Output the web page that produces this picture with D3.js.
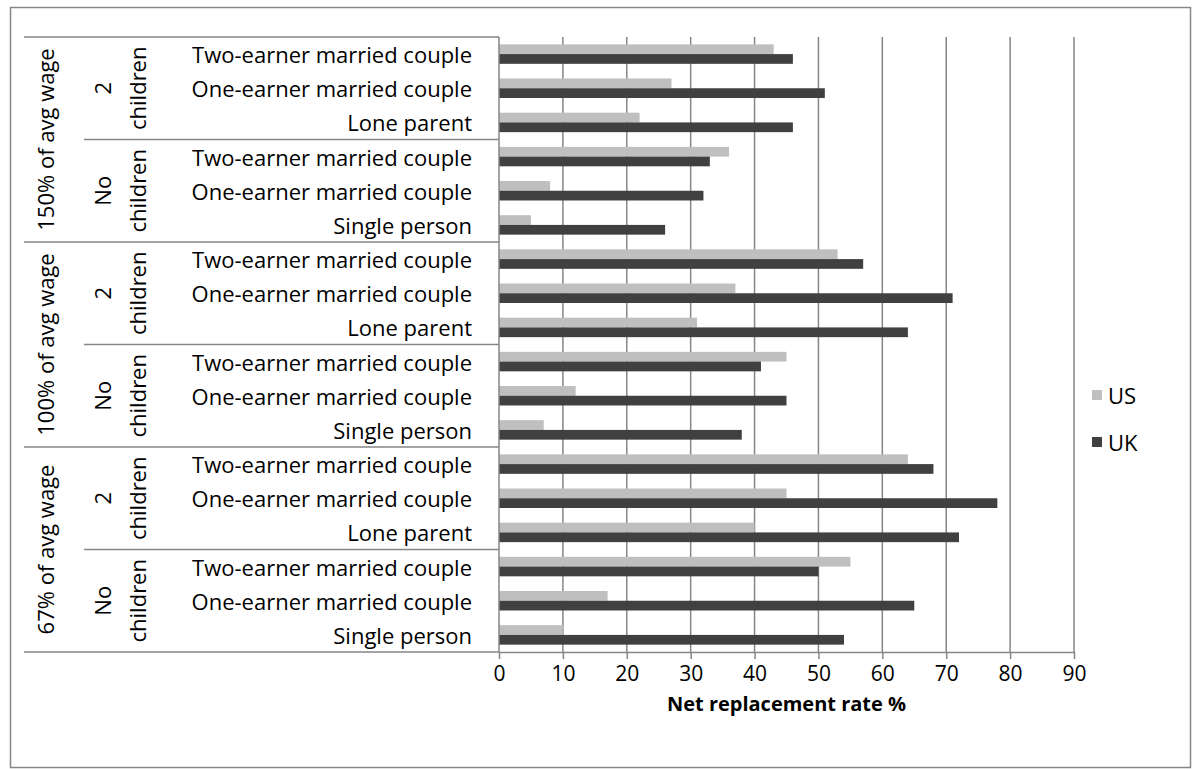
<!DOCTYPE html>
<html>
<head>
<meta charset="utf-8">
<script src="https://cdn.jsdelivr.net/npm/d3@7"></script>
<style>
  body { margin: 0; background: #fff; }
  svg { display: block; }
  text { font-family: "Open Sans", "Noto Sans", sans-serif; fill: #000; }
</style>
</head>
<body>
<svg id="chart" width="1192" height="769"></svg>
<script>
// Outer grouping: wage level (top to bottom)
const wageLevels = ["150% of avg wage", "100% of avg wage", "67% of avg wage"];
// Middle grouping: children (two-line rotated labels)
const familyTypes = [["2", "children"], ["No", "children"]];
// Inner categories inside each family type
const householdTypes = [
  ["Two-earner married couple", "One-earner married couple", "Lone parent"],
  ["Two-earner married couple", "One-earner married couple", "Single person"]
];
const seriesNames = ["US", "UK"];
// Net replacement rates, top row to bottom row
const usValues = [43, 27, 22, 36, 8, 5, 53, 37, 31, 45, 12, 7, 64, 45, 40, 55, 17, 10];
const ukValues = [46, 51, 46, 33, 32, 26, 57, 71, 64, 41, 45, 38, 68, 78, 72, 50, 65, 54];
const xTicks = [0, 10, 20, 30, 40, 50, 60, 70, 80, 90];
const xTitle = "Net replacement rate %";

const seriesColors = { US: "#bfbfbf", UK: "#404040" };
const lineColor = "#868686";
const fontSize = 22;

// Flatten the three-level hierarchy into rows
const rows = [];
wageLevels.forEach((w, wi) => {
  familyTypes.forEach((f, fi) => {
    householdTypes[fi].forEach((h, hi) => {
      const i = rows.length;
      rows.push({ i, wage: wi, family: fi, label: h, US: usValues[i], UK: ukValues[i] });
    });
  });
});

const svg = d3.select("#chart");
svg.append("rect").attr("width", 1192).attr("height", 769).attr("fill", "#fff");

// Chart border
svg.append("rect")
  .attr("x", 10.5).attr("y", 7.5).attr("width", 1180).attr("height", 760)
  .attr("fill", "none").attr("stroke", lineColor).attr("stroke-width", 1.5);

const plot = { left: 499, right: 1074, top: 37, bottom: 652 };

const x = d3.scaleLinear().domain([0, 90]).range([plot.left, plot.right]);
const y = d3.scaleBand().domain(rows.map(r => r.i))
  .range([plot.top, plot.bottom]).paddingInner(0.43).paddingOuter(0.215);
const ySub = d3.scaleBand().domain(seriesNames).range([0, y.bandwidth()]);

// Vertical gridlines
svg.append("g").selectAll("line").data(xTicks.filter(t => t > 0)).join("line")
  .attr("x1", d => x(d)).attr("x2", d => x(d))
  .attr("y1", plot.top).attr("y2", plot.bottom)
  .attr("stroke", lineColor).attr("stroke-width", 1.5);

// Bars
const barG = svg.append("g");
seriesNames.forEach(s => {
  barG.append("g").selectAll("rect").data(rows).join("rect")
    .attr("x", x(0))
    .attr("y", d => y(d.i) + ySub(s))
    .attr("width", d => x(d[s]) - x(0))
    .attr("height", ySub.bandwidth())
    .attr("fill", seriesColors[s]);
});

// Value axis
const xAxis = svg.append("g")
  .attr("transform", `translate(0,${plot.bottom})`)
  .call(d3.axisBottom(x).tickValues(xTicks).tickSize(7).tickSizeOuter(0).tickPadding(7));
xAxis.select(".domain").attr("stroke", lineColor).attr("stroke-width", 1.5);
xAxis.selectAll(".tick line").attr("stroke", lineColor).attr("stroke-width", 1.5);
xAxis.selectAll(".tick text").attr("font-size", fontSize - 1).attr("fill", "#000")
  .style("font-family", "'Open Sans', 'Noto Sans', sans-serif");

svg.append("text")
  .attr("x", (plot.left + plot.right) / 2).attr("y", 711)
  .attr("text-anchor", "middle").attr("font-size", fontSize - 2).attr("font-weight", "bold")
  .text(xTitle);

// Category axis line
svg.append("line")
  .attr("x1", plot.left).attr("x2", plot.left)
  .attr("y1", plot.top).attr("y2", plot.bottom)
  .attr("stroke", lineColor).attr("stroke-width", 1.5);

// Group boundaries
const groupEdge = (idxFirst, idxLast) => [y(idxFirst) - y.step() * y.paddingOuter(), y(idxLast) + y.bandwidth() + y.step() * y.paddingOuter()];
const wageBounds = wageLevels.map((w, wi) => {
  const rs = rows.filter(r => r.wage === wi);
  return groupEdge(rs[0].i, rs[rs.length - 1].i);
});
const familyBounds = [];
wageLevels.forEach((w, wi) => familyTypes.forEach((f, fi) => {
  const rs = rows.filter(r => r.wage === wi && r.family === fi);
  familyBounds.push({ wi, fi, b: groupEdge(rs[0].i, rs[rs.length - 1].i) });
}));

const sepG = svg.append("g").attr("stroke", lineColor).attr("stroke-width", 1.5);
const wageLines = [wageBounds[0][0], ...wageBounds.map(b => b[1])];
sepG.selectAll(".wl").data(wageLines).join("line")
  .attr("x1", 24).attr("x2", plot.left).attr("y1", d => d).attr("y2", d => d);
sepG.selectAll(".fl").data(familyBounds.filter(d => d.fi === 0)).join("line")
  .attr("x1", 84).attr("x2", plot.left).attr("y1", d => d.b[1]).attr("y2", d => d.b[1]);

// Inner category labels
svg.append("g").selectAll("text").data(rows).join("text")
  .attr("x", 472).attr("y", d => y(d.i) + y.bandwidth() / 2)
  .attr("text-anchor", "end").attr("dominant-baseline", "central")
  .attr("font-size", fontSize).text(d => d.label);

// Children labels (rotated, two lines)
const famG = svg.append("g").selectAll("g").data(familyBounds).join("g");
famG.selectAll("text").data(d => familyTypes[d.fi].map((t, k) => ({ t, k, cy: (d.b[0] + d.b[1]) / 2 }))).join("text")
  .attr("transform", d => `translate(${d.k === 0 ? 102 : 137},${d.cy}) rotate(-90)`)
  .attr("text-anchor", "middle").attr("dominant-baseline", "central")
  .attr("font-size", fontSize).text(d => d.t);

// Wage level labels (rotated)
svg.append("g").selectAll("text").data(wageLevels).join("text")
  .attr("transform", (d, i) => `translate(45,${(wageBounds[i][0] + wageBounds[i][1]) / 2}) rotate(-90)`)
  .attr("text-anchor", "middle").attr("dominant-baseline", "central")
  .attr("font-size", fontSize).text(d => d);

// Legend
const legend = svg.append("g").selectAll("g").data(seriesNames).join("g")
  .attr("transform", (d, i) => `translate(1092,${395 + i * 47})`);
legend.append("rect").attr("x", 0).attr("y", -5).attr("width", 10).attr("height", 10)
  .attr("fill", d => seriesColors[d]);
legend.append("text").attr("x", 16).attr("y", 0).attr("dominant-baseline", "central")
  .attr("font-size", fontSize).text(d => d);
</script>
</body>
</html>
